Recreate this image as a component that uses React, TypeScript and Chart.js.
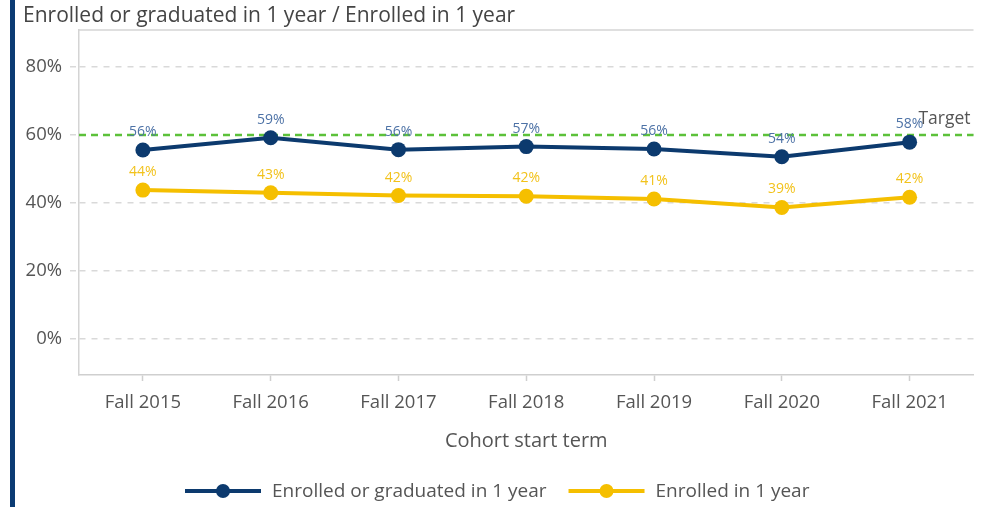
import React, { useEffect, useRef } from "react";
import { Chart, registerables } from "chart.js";

Chart.register(...registerables);

const categories = ["Fall 2015", "Fall 2016", "Fall 2017", "Fall 2018", "Fall 2019", "Fall 2020", "Fall 2021"];
const enrolledOrGraduated = [55.6, 59.2, 55.7, 56.6, 55.9, 53.6, 57.9];
const enrolled = [43.8, 43.0, 42.2, 42.0, 41.2, 38.7, 41.7];
const enrolledOrGraduatedLabels = ["56%", "59%", "56%", "57%", "56%", "54%", "58%"];
const enrolledLabels = ["44%", "43%", "42%", "42%", "41%", "39%", "42%"];
const yTicks = [0, 20, 40, 60, 80];
const targetValue = 60;
const seriesNames = ["Enrolled or graduated in 1 year", "Enrolled in 1 year"];
const chartTitle = "Enrolled or graduated in 1 year / Enrolled in 1 year";
const xAxisTitle = "Cohort start term";

const BLUE = "#0c3a6e";
const BLUE_LABEL = "#4d72a6";
const YELLOW = "#f5bf00";
const YELLOW_LABEL = "#f2c21b";
const GREEN = "#5cc13a";
const TEXT = "#555555";
const FONT = "'Open Sans'";

const W = 981;
const H = 507;

const decorPlugin = {
  id: "decor",
  beforeDatasetsDraw(chart: any) {
    const { ctx, chartArea } = chart;
    const y = chart.scales.y.getPixelForValue(targetValue);
    ctx.save();
    ctx.strokeStyle = "#d4d4d4";
    ctx.lineWidth = 1.5;
    ctx.beginPath();
    ctx.moveTo(chartArea.left, chartArea.top);
    ctx.lineTo(chartArea.right, chartArea.top);
    ctx.stroke();
    ctx.strokeStyle = GREEN;
    ctx.lineWidth = 2.5;
    ctx.setLineDash([7, 5]);
    ctx.beginPath();
    ctx.moveTo(chartArea.left, y);
    ctx.lineTo(chartArea.right, y);
    ctx.stroke();
    ctx.setLineDash([]);
    ctx.restore();
  },
  afterDatasetsDraw(chart: any) {
    const { ctx, chartArea } = chart;
    ctx.save();
    const labelSets = [enrolledOrGraduatedLabels, enrolledLabels];
    const colors = [BLUE_LABEL, YELLOW_LABEL];
    ctx.font = `14px ${FONT}`;
    ctx.textAlign = "center";
    ctx.textBaseline = "middle";
    labelSets.forEach((labels, di) => {
      const meta = chart.getDatasetMeta(di);
      meta.data.forEach((pt: any, i: number) => {
        ctx.fillStyle = colors[di];
        ctx.fillText(labels[i], pt.x, pt.y - 18);
      });
    });
    const ty = chart.scales.y.getPixelForValue(targetValue);
    ctx.font = `17.5px ${FONT}`;
    ctx.fillStyle = TEXT;
    ctx.textAlign = "right";
    ctx.fillText("Target", chartArea.right - 3, ty - 16);
    ctx.font = `21px ${FONT}`;
    ctx.fillStyle = "#444444";
    ctx.textAlign = "left";
    ctx.fillText(chartTitle, 23, 16);
    ctx.font = `20px ${FONT}`;
    ctx.fillStyle = TEXT;
    ctx.textAlign = "center";
    ctx.fillText(xAxisTitle, (chartArea.left + chartArea.right) / 2, 441);
    ctx.font = `19px ${FONT}`;
    ctx.textAlign = "left";
    const ly = 491;
    let x = 185;
    const legColors = [BLUE, YELLOW];
    seriesNames.forEach((name, i) => {
      ctx.strokeStyle = legColors[i];
      ctx.lineWidth = 4;
      ctx.beginPath();
      ctx.moveTo(x, ly);
      ctx.lineTo(x + 76, ly);
      ctx.stroke();
      ctx.fillStyle = legColors[i];
      ctx.beginPath();
      ctx.arc(x + 38, ly, 7, 0, Math.PI * 2);
      ctx.fill();
      ctx.fillStyle = TEXT;
      ctx.fillText(name, x + 87, ly + 1);
      x += 87 + ctx.measureText(name).width + 22;
    });
    ctx.restore();
  },
};

export default function App() {
  const ref = useRef<HTMLCanvasElement | null>(null);
  useEffect(() => {
    if (!ref.current) return;
    const chart = new Chart(ref.current, {
      type: "line",
      data: {
        labels: categories,
        datasets: [
          {
            label: seriesNames[0],
            data: enrolledOrGraduated,
            borderColor: BLUE,
            backgroundColor: BLUE,
            borderWidth: 4,
            pointRadius: 7.5,
            pointBackgroundColor: BLUE,
            pointBorderWidth: 0,
            tension: 0,
          },
          {
            label: seriesNames[1],
            data: enrolled,
            borderColor: YELLOW,
            backgroundColor: YELLOW,
            borderWidth: 4,
            pointRadius: 7.5,
            pointBackgroundColor: YELLOW,
            pointBorderWidth: 0,
            tension: 0,
          },
        ],
      },
      options: {
        responsive: false,
        animation: false,
        layout: { padding: { top: 30, right: 5, left: 0, bottom: 0 } },
        plugins: {
          legend: { display: false },
          title: { display: false },
          tooltip: { enabled: false },
        },
        scales: {
          x: {
            offset: true,
            grid: {
              offset: false,
              drawOnChartArea: false,
              drawTicks: true,
              tickLength: 6,
              tickColor: "#cfcfcf",
              tickWidth: 1.5,
            },
            border: { display: true, color: "#cfcfcf", width: 1.5 },
            ticks: {
              color: TEXT,
              font: { family: FONT, size: 18.5 },
              padding: 11,
              maxRotation: 0,
            },
            afterFit: (scale: any) => {
              scale.height = 132;
            },
          },
          y: {
            min: -10.6,
            max: 90.9,
            afterBuildTicks: (scale: any) => {
              scale.ticks = yTicks.map((v) => ({ value: v }));
            },
            grid: {
              color: "#d9d9d9",
              lineWidth: 1.5,
              tickLength: 9,
              tickColor: "#d9d9d9",
              tickWidth: 1.5,
              tickBorderDash: [6, 6],
            },
            border: { display: true, color: "#d4d4d4", width: 1.5, dash: [6, 6] },
            ticks: {
              color: TEXT,
              font: { family: FONT, size: 18.5 },
              padding: 8,
              callback: (v: any) => `${v}%`,
            },
            afterFit: (scale: any) => {
              scale.width = 79;
            },
          },
        },
      },
      plugins: [decorPlugin],
    });
    return () => chart.destroy();
  }, []);
  return (
    <div style={{ position: "fixed", left: 0, top: 0, width: W, height: H, background: "#fff" }}>
      <div style={{ position: "absolute", left: 10, top: 0, width: 5, height: H, background: "#0b3b73" }} />
      <canvas ref={ref} width={W} height={H} style={{ position: "absolute", left: 0, top: 0, width: W, height: H }} />
    </div>
  );
}
